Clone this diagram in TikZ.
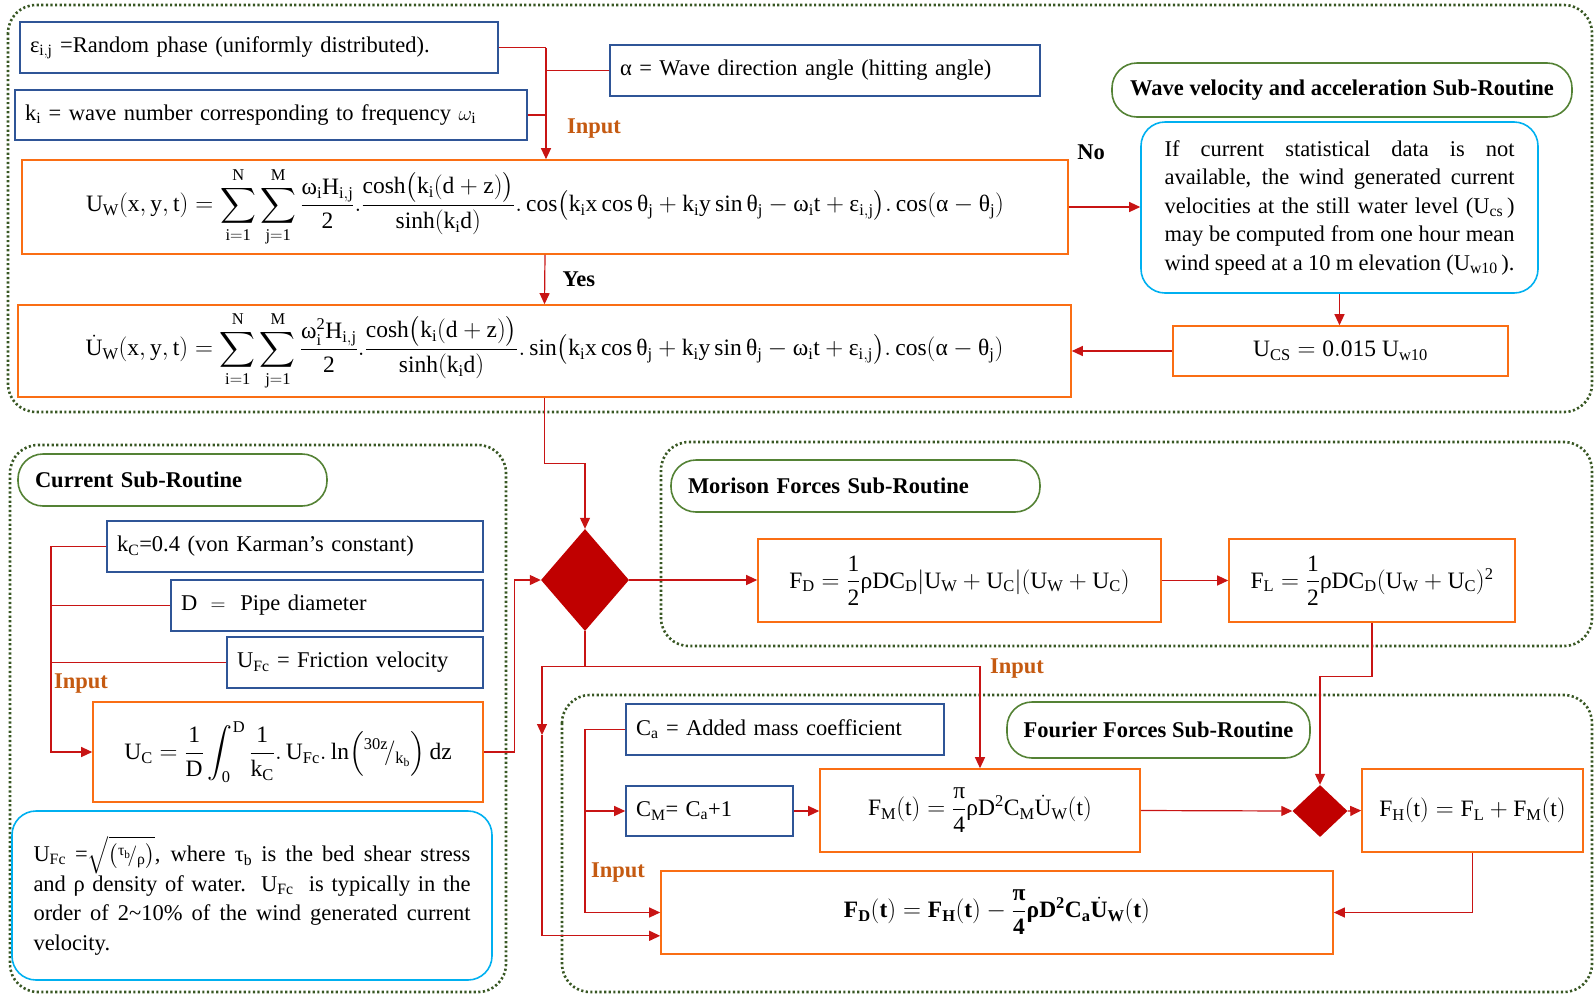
\documentclass[tikz,border=0pt]{standalone}
\usepackage{amsmath}
\usepackage{fontspec}
\setmainfont{Liberation Serif}
\usetikzlibrary{arrows.meta,positioning,calc,shapes.geometric}
\definecolor{lineRed}{RGB}{200,20,20}
\definecolor{diaRed}{RGB}{192,0,0}
\definecolor{boxBlue}{RGB}{47,85,151}
\definecolor{boxOrange}{RGB}{250,110,20}
\definecolor{titleGreen}{RGB}{84,130,53}
\definecolor{noteCyan}{RGB}{0,176,240}
\definecolor{groupGreen}{RGB}{56,87,35}
\definecolor{inputBrown}{RGB}{197,90,17}
% upright greek letter taken from the text font
\newcommand{\gr}[1]{\text{#1}}

\begin{document}
\begin{tikzpicture}[
    x=1pt,y=-1pt,
    font=\fontsize{22.5}{27}\selectfont,
    inbox/.style={draw=boxBlue,line width=1.6pt,inner xsep=10pt,align=left},
    eqbox/.style={draw=boxOrange,line width=1.6pt,inner sep=0pt,font=\fontsize{23.5}{28}\selectfont},
    note/.style={draw=noteCyan,line width=1.6pt,rounded corners=24pt,align=justify},
    routine/.style={draw=titleGreen,line width=1.6pt,rounded corners=25pt,font=\fontsize{22.5}{27}\selectfont\bfseries},
    group/.style={draw=groupGreen,line width=2.6pt,dash pattern=on 2.2pt off 2.4pt,rounded corners=28pt},
    dec/.style={diamond,fill=diaRed,draw=none,inner sep=0pt},
    link/.style={draw=lineRed,line width=1.2pt},
    arrow/.style={link,-{Triangle[length=11pt,width=10pt]}},
    inlab/.style={text=inputBrown,font=\fontsize{22.5}{27}\selectfont\bfseries},
    lab/.style={font=\fontsize{22.5}{27}\selectfont\bfseries}
  ]
  \useasboundingbox (0,0) rectangle (1595,994);
  % sub-routine frames
  \draw[group] (8,5) rectangle (1592,412);
  \draw[group] (10,445) rectangle (506,992);
  \draw[group] (661,442) rectangle (1592,646);
  \draw[group] (562,695) rectangle (1592,992);

  % wave sub-routine
  \node[inbox,text width=458pt,minimum height=51pt] (eps) at (259,47.5) {ε$_{\mathrm{i,j}}$ =Random phase (uniformly distributed).};
  \node[inbox,text width=492pt,minimum height=50pt] (ki) at (271,115) {k$_{\mathrm{i}}$ = wave number corresponding to frequency $\omega_{\mathrm{i}}$};
  \node[inbox,text width=410pt,minimum height=51pt] (alpha) at (825,70.5) {α = Wave direction angle (hitting angle)};
  \node[eqbox,minimum width=1046pt,minimum height=94pt] (eq1) at (545,207) {$\displaystyle\mathrm{U_W(x,y,t) = \sum_{i=1}^{N}\sum_{j=1}^{M}\frac{\gr{ω}_iH_{i,j}}{2}.\frac{\cosh\bigl(k_i(d+z)\bigr)}{\sinh(k_id)}.\cos\bigl(k_ix\cos\gr{θ}_j+k_iy\sin\gr{θ}_j-\gr{ω}_it+\gr{ε}_{i,j}\bigr).\cos(\gr{α}-\gr{θ}_j)}$};
  \node[eqbox,minimum width=1053pt,minimum height=92pt] (eq2) at (544.5,351) {$\displaystyle\dot{\mathrm{U}}_{\mathrm W}\mathrm{(x,y,t) = \sum_{i=1}^{N}\sum_{j=1}^{M}\frac{\gr{ω}_i^2H_{i,j}}{2}.\frac{\cosh\bigl(k_i(d+z)\bigr)}{\sinh(k_id)}.\sin\bigl(k_ix\cos\gr{θ}_j+k_iy\sin\gr{θ}_j-\gr{ω}_it+\gr{ε}_{i,j}\bigr).\cos(\gr{α}-\gr{θ}_j)}$};
  \node[routine,minimum width=460pt,minimum height=54pt] (wtitle) at (1342,90) {Wave velocity and acceleration Sub-Routine};
  \node[note,text width=350pt,inner xsep=23.5pt,minimum height=171pt,font=\fontsize{22.5}{28.5}\selectfont] (info) at (1339.5,207.5) {\hyphenpenalty=10000 If current statistical data is not\linebreak available, the wind generated current\linebreak velocities at the still water level (U$_{\mathrm{cs}}$\,)\linebreak may be computed from one hour mean\linebreak wind speed at a 10 m elevation (U$_{\mathrm{w10}}$\,).};
  \node[eqbox,minimum width=335pt,minimum height=50pt] (ucs) at (1340.5,351) {$\mathrm{U_{CS} = 0.015\ U_{w10}}$};
  \node[inlab] (in1) at (594,129) {Input};
  \node[lab] (no) at (1091,152) {No};

  % decision
  \node[dec,minimum width=88pt,minimum height=102pt] (dia) at (585,580) {};

  % current sub-routine
  \node[routine,text width=275pt,inner xsep=17pt,minimum height=52pt,align=left] (ctitle) at (172.5,480) {Current Sub-Routine};
  \node[inbox,text width=356pt,minimum height=51pt] (kc) at (295,546.5) {k$_{\mathrm{C}}$=0.4 (von Karman’s constant)};
  \node[inbox,text width=292pt,minimum height=51pt] (dd) at (327,605.5) {$\mathrm{D\ =}$\ \ Pipe diameter};
  \node[inbox,text width=236pt,minimum height=51pt] (ufc) at (355,662.5) {$\mathrm{U_{Fc}}$ = Friction velocity};
  \node[eqbox,minimum width=390pt,minimum height=100pt] (uc) at (288,752) {$\mathrm{U_C = \dfrac{1}{D}\displaystyle\int_0^D\dfrac{1}{k_C}.\,U_{Fc}.\ln\Bigl({}^{30z}\!/_{k_b}\Bigr)\,dz}$};
  \node[note,text width=437pt,inner xsep=21.5pt,minimum height=169pt,font=\fontsize{22.5}{29.5}\selectfont] (ufnote) at (252,895.5) {\hyphenpenalty=10000 U$_{\mathrm{Fc}}$ =$\sqrt{\bigl({}^{\gr{τ}_{\mathrm b}}\!/_{\gr{ρ}}\bigr)}$, where τ$_{\mathrm b}$ is the bed shear stress\linebreak and ρ density of water.\ \ U$_{\mathrm{Fc}}$ \ is typically in the\linebreak order of 2\textasciitilde10\% of the wind generated current\linebreak velocity.};
  \node[inlab] (in2) at (81,684) {Input};

  % morison sub-routine
  \node[routine,text width=335pt,inner xsep=17pt,minimum height=52pt,align=left] (mtitle) at (855.5,486) {Morison Forces Sub-Routine};
  \node[eqbox,minimum width=403pt,minimum height=83pt] (fd) at (959.5,580.5) {$\mathrm{F_D = \dfrac{1}{2}\gr{ρ}DC_D|U_W+U_C|(U_W+U_C)}$};
  \node[eqbox,minimum width=286pt,minimum height=83pt] (fl) at (1372,580.5) {$\mathrm{F_L = \dfrac{1}{2}\gr{ρ}DC_D(U_W+U_C)^2}$};
  \node[inlab] (in3) at (1017,669) {Input};

  % fourier sub-routine
  \node[routine,minimum width=303pt,minimum height=56pt] (ftitle) at (1158.5,730) {Fourier Forces Sub-Routine};
  \node[inbox,text width=298pt,minimum height=51pt] (ca) at (785,729.5) {C$_{\mathrm a}$ = Added mass coefficient};
  \node[inbox,text width=147pt,minimum height=50pt] (cm) at (709.5,811) {C$_{\mathrm M}$= C$_{\mathrm a}$+1};
  \node[eqbox,minimum width=320pt,minimum height=83pt] (fm) at (980,810.5) {\raisebox{10pt}{$\mathrm{F_M(t) = \dfrac{\gr{π}}{4}\gr{ρ}D^2C_M}\dot{\mathrm{U}}_{\mathrm W}\mathrm{(t)}$}};
  \node[dec,minimum width=55pt,minimum height=52pt] (dia2) at (1320,811) {};
  \node[eqbox,minimum width=221pt,minimum height=83pt] (fh) at (1472.5,810.5) {$\mathrm{F_H(t) = F_L + F_M(t)}$};
  \node[eqbox,minimum width=672pt,minimum height=83pt] (fdt) at (997,912.5) {\raisebox{8pt}{$\mathbf{F_D(t) = F_H(t) - \dfrac{\text{\bfseries π}}{4}\text{\bfseries ρ}D^2C_a}\dot{\mathbf{U}}_{\mathbf W}\mathbf{(t)}$}};
  \node[inlab] (in4) at (618,873) {Input};

  % connectors
  \coordinate (jin) at (546,47.5);
  \draw[link] (eps.east) -- (jin);
  \draw[link] (ki.east) -- (ki.east -| jin);
  \draw[link] (alpha.west) -- (alpha.west -| jin);
  \draw[arrow] (jin) -- (jin |- eq1.north);
  \draw[arrow] (eq1.south) -- node[lab,right=14pt] {Yes} (eq2.north);
  \draw[arrow] (eq1.east) -- (eq1.east -| info.west);
  \draw[arrow] (info.south) -- (info.south |- ucs.north);
  \draw[arrow] (ucs.west) -- (ucs.west -| eq2.east);
  \draw[arrow] (eq2.south) -- ++(0,66) -| (dia.north);

  \coordinate (jc) at (51,0);
  \draw[arrow] (kc.west) -- (kc.west -| jc) |- (uc.west);
  \draw[link] (dd.west) -- (dd.west -| jc);
  \draw[link] (ufc.west) -- (ufc.west -| jc);
  \draw[arrow] (uc.east) -- ++(31,0) |- (dia.west);

  \draw[arrow] (dia.east) -- (dia.east -| fd.west);
  \draw[arrow] (fd) -- (fl);
  \draw[arrow] (fl.south) -- ++(0,54) -| (dia2.north);

  \draw[link] (dia.south) -- ++(0,35) coordinate (split);
  \draw[arrow] (split) -| (fm.north);
  \coordinate (mid) at (542,735);
  \coordinate (fdin) at ($(fdt.south west)+(0,-19)$);
  \draw[arrow] (split) -| (mid);
  \draw[arrow] (mid) |- (fdin);

  \coordinate (jf) at (585,0);
  \draw[arrow] (ca.west) -| (jf |- cm.west) -- (cm.west);
  \draw[arrow] (jf |- cm.west) |- (fdt.west);
  \draw[arrow] (cm.east) -- (cm.east -| fm.west);
  \draw[arrow] (fm.east) -- (dia2.west);
  \draw[arrow] (dia2.east) -- (fh.west);
  \draw[arrow] (fh.south) |- (fdt.east);
\end{tikzpicture}
\end{document}
